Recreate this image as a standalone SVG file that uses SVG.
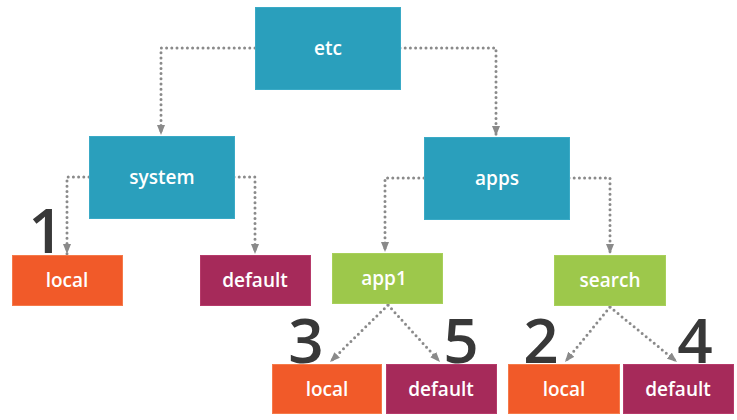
<svg xmlns="http://www.w3.org/2000/svg" width="737" height="420" viewBox="0 0 737 420">
<style>
.lbl{font-family:"Open Sans","Liberation Sans",sans-serif;font-weight:600;font-size:19px;fill:#ffffff;text-anchor:middle;dominant-baseline:central}
.num{font-family:"Open Sans","Liberation Sans",sans-serif;font-weight:600;font-size:62px;fill:#383838;stroke:#ffffff;stroke-width:1;paint-order:stroke;text-anchor:middle}
.dir{fill:#2a9fbc;stroke:#3aaac6;stroke-width:1}
.loc{fill:#f15a29;stroke:#f57a4a;stroke-width:1}
.def{fill:#a62a5a;stroke:#b63a6a;stroke-width:1}
.app{fill:#9dc84b;stroke:#a8d05a;stroke-width:1}
.con{fill:none;stroke:#8a8a8a;stroke-width:3;stroke-linecap:round;stroke-dasharray:0 5.2;marker-end:url(#ah)}
</style>
<defs>
<marker id="ah" viewBox="0 0 10 8" refX="10" refY="4" markerWidth="10" markerHeight="8" markerUnits="userSpaceOnUse" orient="auto">
<path d="M0,0 L10,4 L0,8 z" fill="#8a8a8a"/>
</marker>
</defs>
<g id="connectors">
<path class="con" d="M255,48 H161 V135"/>
<path class="con" d="M400,48 H496 V136"/>
<path class="con" d="M89,177 H67 V254"/>
<path class="con" d="M234,177 H255 V254"/>
<path class="con" d="M424,178 H385 V252"/>
<path class="con" d="M569,178 H610 V254"/>
<path class="con" d="M388,305 L330,362"/>
<path class="con" d="M388,305 L440,362"/>
<path class="con" d="M610,307 L565,362"/>
<path class="con" d="M610,307 L677,362"/>
</g>
<g id="etc"><rect class="dir" x="255.5" y="7.5" width="145" height="82"/><text class="lbl" x="328" y="48">etc</text></g>
<g id="system"><rect class="dir" x="89.5" y="136.5" width="145" height="82"/><text class="lbl" x="162" y="177">system</text></g>
<g id="apps"><rect class="dir" x="424.5" y="137.5" width="145" height="82"/><text class="lbl" x="497" y="178">apps</text></g>
<g id="local-system"><rect class="loc" x="12.5" y="255.5" width="110" height="50"/><text class="lbl" x="67" y="280">local</text></g>
<g id="default-system"><rect class="def" x="200.5" y="255.5" width="110" height="50"/><text class="lbl" x="255" y="280">default</text></g>
<g id="app1"><rect class="app" x="332.5" y="253.5" width="110" height="50"/><text class="lbl" x="384" y="278">app1</text></g>
<g id="search"><rect class="app" x="554.5" y="255.5" width="111" height="50"/><text class="lbl" x="610" y="280">search</text></g>
<g id="local-app1"><rect class="loc" x="272.5" y="364.5" width="109" height="49"/><text class="lbl" x="327" y="389">local</text></g>
<g id="default-app1"><rect class="def" x="386.5" y="364.5" width="110" height="49"/><text class="lbl" x="441" y="389">default</text></g>
<g id="local-search"><rect class="loc" x="508.5" y="364.5" width="111" height="49"/><text class="lbl" x="564" y="389">local</text></g>
<g id="default-search"><rect class="def" x="623.5" y="364.5" width="110" height="49"/><text class="lbl" x="678" y="389">default</text></g>
<g id="numbers">
<text class="num" x="46" y="253">1</text>
<text class="num" x="306" y="363">3</text>
<text class="num" x="461" y="363">5</text>
<text class="num" x="541" y="363">2</text>
<text class="num" x="695" y="363">4</text>
</g>
</svg>
